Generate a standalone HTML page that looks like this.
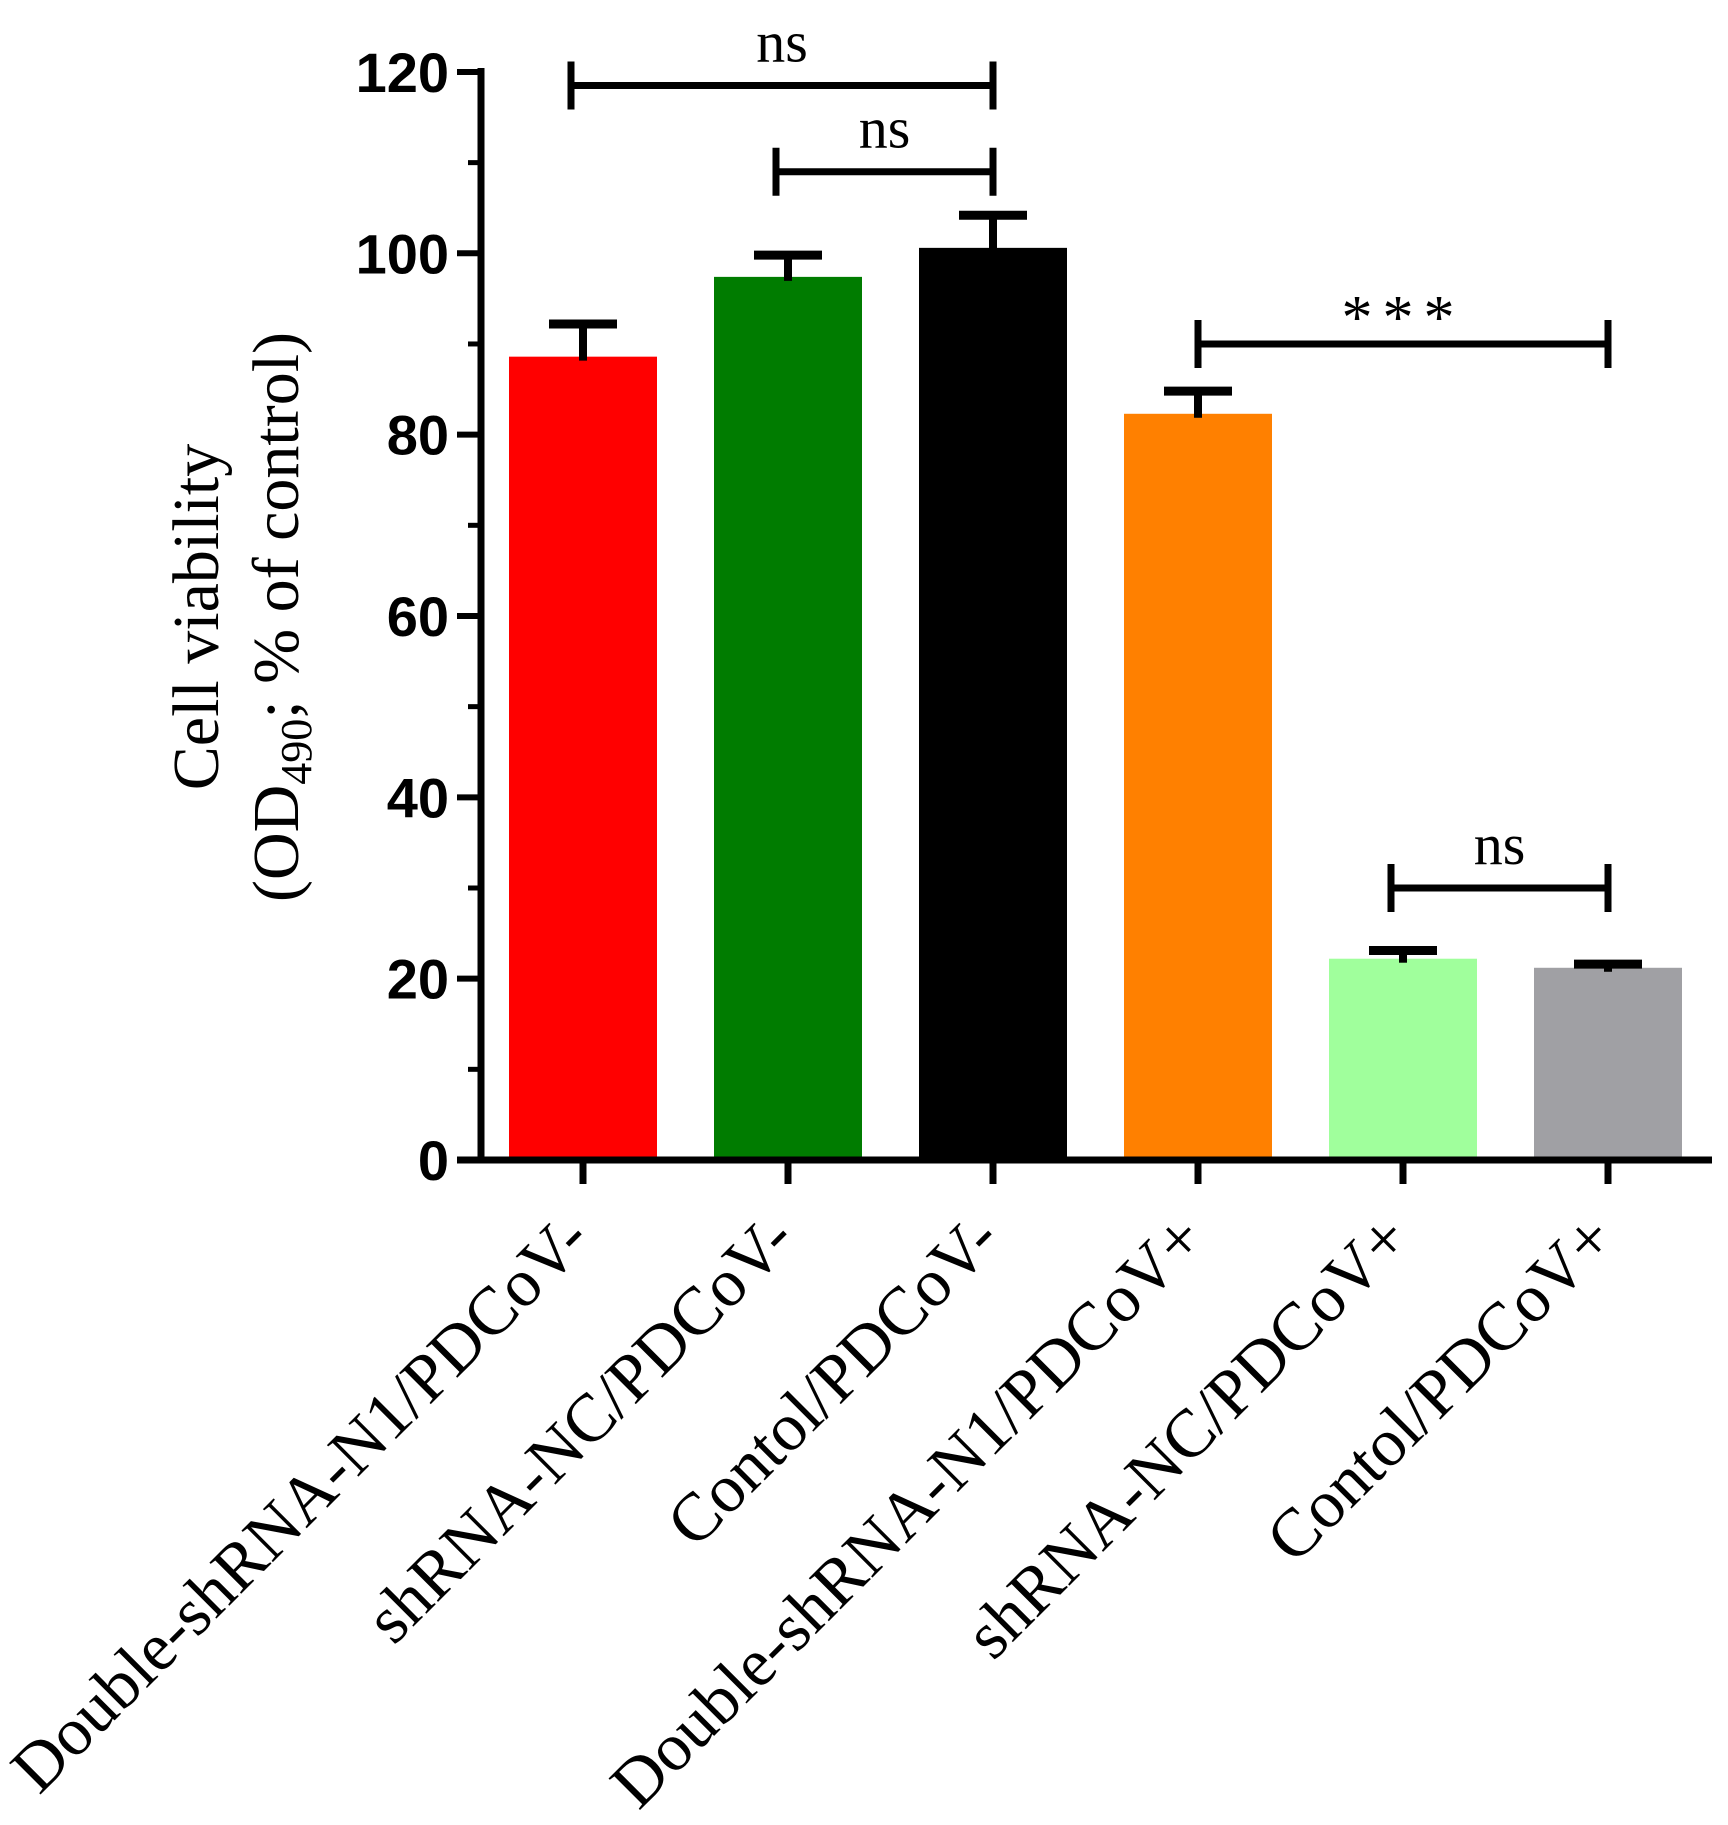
<!DOCTYPE html>
<html><head><meta charset="utf-8"><style>
body{margin:0;background:#fff}
svg{display:block}
</style></head><body>
<svg width="1728" height="1825" viewBox="0 0 1728 1825">
<g id="plot"></g>
</svg>
<script>
const categories=["Double-shRNA-N1/PDCoV-","shRNA-NC/PDCoV-","Contol/PDCoV-","Double-shRNA-N1/PDCoV+","shRNA-NC/PDCoV+","Contol/PDCoV+"];
const values=[88.6,97.4,100.6,82.3,22.2,21.2];
const errors=[3.6,2.4,3.6,2.5,0.9,0.4];
const colors=["#ff0000","#007c00","#000000","#ff8000","#a0ff9c","#a0a0a4"];
const yTicks=[0,20,40,60,80,100,120];
const brackets=[[0,2,"ns"],[1,2,"ns"],[3,5,"***"],[4,5,"ns"]];
const bracketY=[118.5,109,90,30];

const NS="http://www.w3.org/2000/svg";
const g=document.getElementById('plot');
const y0=1160, pxPer=9.067, ax=481;
function yS(v){return y0-v*pxPer;}
function xC(i){return 583+i*205;}
function mk(t,a,txt){const e=document.createElementNS(NS,t);for(const k in a)e.setAttribute(k,a[k]);if(txt!==undefined)e.textContent=txt;g.appendChild(e);return e;}

categories.forEach((c,i)=>{
  const b=mk('rect',{x:xC(i)-74,y:yS(values[i]),width:148,height:y0-yS(values[i]),fill:colors[i]});
  
  
  const top=yS(values[i]+errors[i]);
  const ev=mk('line',{x1:xC(i),x2:xC(i),y1:yS(values[i])+4,y2:top,stroke:'#000','stroke-width':8});
  
  
  const ec=mk('line',{x1:xC(i)-34,x2:xC(i)+34,y1:top,y2:top,stroke:'#000','stroke-width':9});
  
  
  const t=mk('line',{x1:xC(i),x2:xC(i),y1:y0,y2:y0+24,stroke:'#000','stroke-width':7});
  
  
  const lx=xC(i)+10, ly=1242;
  const l=mk('text',{x:lx,y:ly,'text-anchor':'end',transform:`rotate(-45 ${lx} ${ly})`,'font-family':'"Liberation Serif",serif','font-size':68},c);
  
  
});

const ya=mk('line',{x1:ax,x2:ax,y1:yS(120)-4,y2:y0+3,stroke:'#000','stroke-width':7});


const xa=mk('line',{x1:457,x2:1712,y1:y0,y2:y0,stroke:'#000','stroke-width':7});


yTicks.forEach(v=>{
  const t=mk('line',{x1:457,x2:ax,y1:yS(v),y2:yS(v),stroke:'#000','stroke-width':6});
  
  
  const l=mk('text',{x:449,y:yS(v)+20,'text-anchor':'end','font-family':'"Liberation Sans",sans-serif','font-weight':'bold','font-size':56},String(v));
  
  
  if(v<120){
    const m=mk('line',{x1:468,x2:ax,y1:yS(v+10),y2:yS(v+10),stroke:'#000','stroke-width':5});
    
    
  }
});

brackets.forEach((b,k)=>{
  const star=b[2]==="***";
  const x1=star?xC(b[0]):xC(b[0])-12, x2=xC(b[1]), y=yS(bracketY[k]);
  const grp=mk('g',{});
  
  
  [[x1,y,x2,y],[x1,y-24,x1,y+24],[x2,y-24,x2,y+24]].forEach(p=>{
    const ln=document.createElementNS(NS,'line');
    ln.setAttribute('x1',p[0]);ln.setAttribute('y1',p[1]);ln.setAttribute('x2',p[2]);ln.setAttribute('y2',p[3]);
    ln.setAttribute('stroke','#000');ln.setAttribute('stroke-width',7);
    grp.appendChild(ln);
  });
  const t=mk('text',{x:(x1+x2)/2,y:star?y-6:y-24,'text-anchor':'middle','font-family':'"Liberation Serif",serif','font-size':star?62:58,'letter-spacing':star?10:0},b[2]);
  
  
});

const yt=mk('text',{transform:'translate(218 617) rotate(-90)','text-anchor':'middle','font-family':'"Liberation Serif",serif','font-size':66},'Cell viability');


const yt2=mk('text',{transform:'translate(298 617) rotate(-90)','text-anchor':'middle','font-family':'"Liberation Serif",serif','font-size':66});


yt2.innerHTML='(OD<tspan font-size="44" dy="13">490</tspan><tspan dy="-13">; % of control)</tspan>';
</script>
</body></html>
